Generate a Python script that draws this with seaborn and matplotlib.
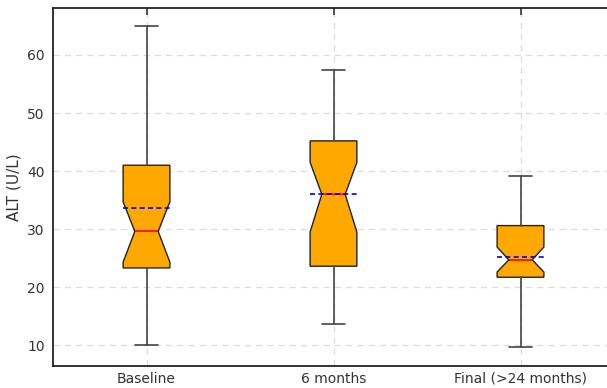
import matplotlib
matplotlib.use("Agg")
import matplotlib.pyplot as plt
import seaborn as sns

# Data
categories = ["Baseline", "6 months", "Final (>24 months)"]
whislo = [10.0, 13.6, 9.6]
q1 = [23.3, 23.6, 21.7]
med = [29.6, 36.0, 24.7]
q3 = [41.0, 45.2, 30.6]
whishi = [65.0, 57.4, 39.1]
means = [33.6, 36.1, 25.2]
ci_lo = [24.3, 29.5, 22.6]
ci_hi = [34.7, 41.5, 26.9]

sns.set_style("white")
plt.rcParams['font.family'] = ['DejaVu Sans']

fig = plt.figure(figsize=(6.07, 3.88), dpi=100)
ax = fig.add_axes([53/607, 22/388, 561/607, 358/388])

stats = []
for i, c in enumerate(categories):
    stats.append(dict(label=c, whislo=whislo[i], q1=q1[i], med=med[i], q3=q3[i],
                      whishi=whishi[i], mean=means[i], cilo=ci_lo[i], cihi=ci_hi[i],
                      fliers=[]))

ax.bxp(stats, positions=[1, 2, 3], widths=0.25, shownotches=True, patch_artist=True,
       showmeans=True, meanline=True, showfliers=False,
       boxprops=dict(facecolor="#FFA800", edgecolor="#222222", linewidth=1.0),
       medianprops=dict(color="red", linewidth=1.2),
       meanprops=dict(color="blue", linestyle=(0, (3, 2)), linewidth=1.2),
       whiskerprops=dict(color="#444444", linewidth=1.2),
       capprops=dict(color="#444444", linewidth=1.2))

ax.set_xlim(0.5, 3.5)
ax.set_ylim(6.4, 68.1)
ax.set_yticks([10, 20, 30, 40, 50, 60])
ax.set_ylabel("ALT (U/L)", fontsize=11, color="#333333", labelpad=4)
ax.grid(True, linestyle=(0, (5, 4)), color="#dddddd", linewidth=0.9)
ax.set_axisbelow(True)
for s in ax.spines.values():
    s.set_color("#222222")
    s.set_linewidth(1.3)
ax.tick_params(axis="y", labelsize=10, labelcolor="#333333", length=0, pad=6)
ax.tick_params(axis="x", labelsize=10, labelcolor="#333333", top=True, direction="in",
               length=5, width=1.2, color="#333333", bottom=False, pad=4)

fig.savefig("out.png", dpi=100)
